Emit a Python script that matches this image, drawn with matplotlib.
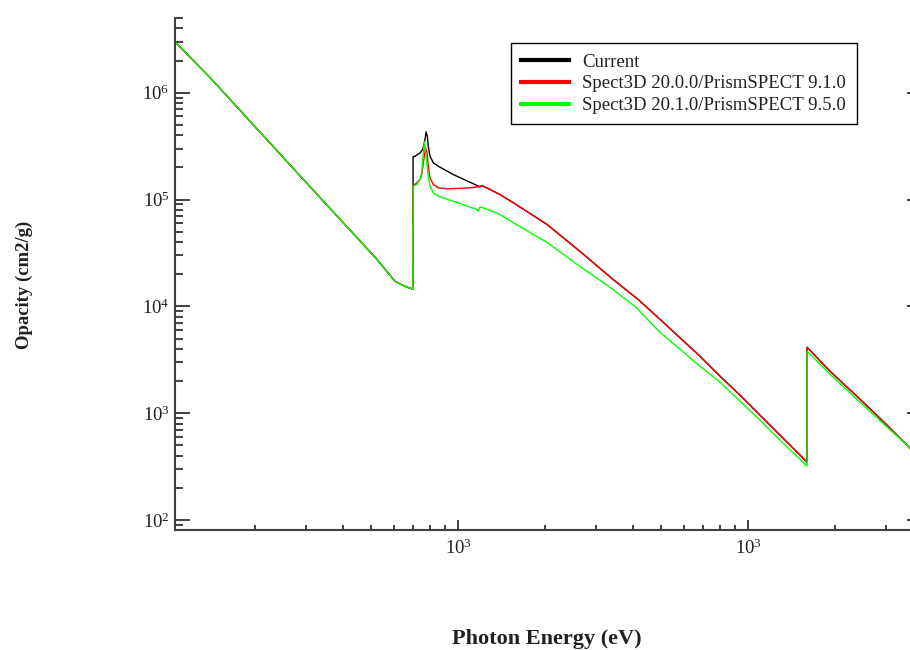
import matplotlib
matplotlib.use("Agg")
import matplotlib.pyplot as plt
from matplotlib.lines import Line2D
from matplotlib.ticker import FixedLocator, FixedFormatter, LogLocator, NullFormatter

plt.rcParams["font.family"] = ["Liberation Serif", "DejaVu Serif"]
plt.rcParams["mathtext.fontset"] = "custom"
plt.rcParams["mathtext.rm"] = "Liberation Serif"
plt.rcParams["mathtext.it"] = "Liberation Serif:italic"
plt.rcParams["mathtext.bf"] = "Liberation Serif:bold"

# photon energy (eV) / opacity (cm2/g)
# below the L edge all three curves are on top of each other
energy_low = [105.7, 141.8, 278.5, 525.6, 606.5, 656.5, 688.5, 699.0]
opacity_low = [3.0e6, 1.323e6, 1.788e5, 2.75e4, 1.712e4, 1.538e4, 1.473e4, 1.441e4]

# "Current": only differs near the L edge, then follows the 20.0.0 curve
energy_cur_edge = [700, 710.7, 739.6, 755.6, 769.5, 775.7, 783.6, 789.9,
                   800.6, 821.9, 855.2, 963.4, 1191]
opacity_cur_edge = [252300, 253900, 273200, 293400, 363700, 429200, 390600, 314900,
                    253900, 220300, 204800, 171200, 131400]

# Spect3D 20.0.0 / PrismSPECT 9.1.0
energy_v20 = [700, 720.4, 739.6, 749.6, 759.2, 772.5, 781.8, 789.9, 800.6, 821.9,
              855.2, 914.6, 1100, 1175, 1207, 1256, 1395, 1547, 2027, 2635,
              3423, 4176, 4972, 6831, 8008, 9384, 11000, 12890, 15730, 15980,
              15980, 19180, 24330, 29680, 35620, 39500]
opacity_v20 = [133100, 143300, 153800, 171200, 220300, 306200, 275000, 204800, 159500, 138100,
               128600, 125900, 128600, 131400, 135100, 128600, 111400, 93760, 58400, 32660,
               17880, 11630, 7557, 3410, 2217, 1473, 957.9, 623, 363.7, 348.5,
               4139, 2469, 1351, 806, 491.5, 364]

# Spect3D 20.1.0 / PrismSPECT 9.5.0
energy_v21 = [700, 720.4, 739.6, 749.6, 765.3, 780, 789.9, 800.6, 821.9, 855.2,
              963.4, 1160, 1175, 1191, 1222, 1395, 1547, 2027, 2635, 3423,
              4109, 4972, 6831, 8008, 9384, 11000, 12890, 15730, 15980, 15980,
              19180, 24330, 29680, 35620, 39500]
opacity_v21 = [133100, 138100, 153800, 183900, 348400, 220300, 165100, 133100, 115500, 107400,
               96410, 80640, 77770, 85500, 83630, 72400, 60950, 39650, 23640, 14410,
               9788, 5715, 2750, 1949, 1295, 860, 559.5, 333.6, 319.7, 3796,
               2314, 1267, 772.5, 491.5, 364]

series_names = ["Current", "Spect3D 20.0.0/PrismSPECT 9.1.0", "Spect3D 20.1.0/PrismSPECT 9.5.0"]
series_colors = ["#000000", "#ff0000", "#00ff00"]

x_ticks = [1e3, 1e4]
x_tick_labels = ["$10^{3}$", "$10^{3}$"]
y_ticks = [1e2, 1e3, 1e4, 1e5, 1e6]
y_tick_labels = ["$10^{2}$", "$10^{3}$", "$10^{4}$", "$10^{5}$", "$10^{6}$"]

tail = [i for i, e in enumerate(energy_v20) if e > 1191]
energy_cur = energy_low + energy_cur_edge + [energy_v20[i] for i in tail]
opacity_cur = opacity_low + opacity_cur_edge + [opacity_v20[i] for i in tail]

fig = plt.figure(figsize=(9.1, 6.5), dpi=100)
ax = fig.add_axes([175 / 910, 120 / 650, 747 / 910, 512 / 650])

curves = [
    (energy_cur, opacity_cur),
    (energy_low + energy_v20, opacity_low + opacity_v20),
    (energy_low + energy_v21, opacity_low + opacity_v21),
]
for (xs, ys), color in zip(curves, series_colors):
    ax.plot(xs, ys, color=color, lw=1.0)

ax.set_xscale("log")
ax.set_yscale("log")
ax.set_xlim(105.7, 39800)
ax.set_ylim(80.7, 5e6)

ax.xaxis.set_major_locator(FixedLocator(x_ticks))
ax.xaxis.set_major_formatter(FixedFormatter(x_tick_labels))
ax.yaxis.set_major_locator(FixedLocator(y_ticks))
ax.yaxis.set_major_formatter(FixedFormatter(y_tick_labels))
ax.xaxis.set_minor_locator(LogLocator(base=10, subs=range(2, 10), numticks=20))
ax.yaxis.set_minor_locator(LogLocator(base=10, subs=range(2, 10), numticks=20))
ax.xaxis.set_minor_formatter(NullFormatter())
ax.yaxis.set_minor_formatter(NullFormatter())

for side in ["top", "right"]:
    ax.spines[side].set_visible(False)
for side in ["left", "bottom"]:
    ax.spines[side].set_color("#404040")
    ax.spines[side].set_linewidth(1.5)

ax.tick_params(axis="both", which="both", direction="in", colors="#202020", width=1.2,
               labelsize=13.5, labelcolor="#202020")
ax.tick_params(axis="y", which="major", length=11, pad=4, right=True)
ax.tick_params(axis="y", which="minor", length=5.5, right=True)
ax.tick_params(axis="x", which="major", length=7, pad=6)
ax.tick_params(axis="x", which="minor", length=3.6)

ax.set_xlabel("Photon Energy (eV)", fontsize=16, fontweight="bold", color="#202020")
ax.xaxis.set_label_coords(372 / 747, -0.193)
ax.set_ylabel("Opacity (cm2/g)", fontsize=13.5, fontweight="bold", color="#202020")
ax.yaxis.set_label_coords(-0.19, 0.478)

handles = [Line2D([], [], color=c, lw=3) for c in series_colors]
leg = ax.legend(handles, series_names, loc="upper left", bbox_to_anchor=(336 / 747, 0.951),
                borderaxespad=0, fontsize=13.5, frameon=True, fancybox=False,
                handlelength=2.56, handletextpad=0.7, borderpad=0.55, labelspacing=0.25)
leg.get_frame().set_edgecolor("black")
leg.get_frame().set_linewidth(1.0)
leg.get_frame().set_alpha(1)
for t in leg.get_texts():
    t.set_color("#202020")

fig.savefig("out.png", dpi=100)
